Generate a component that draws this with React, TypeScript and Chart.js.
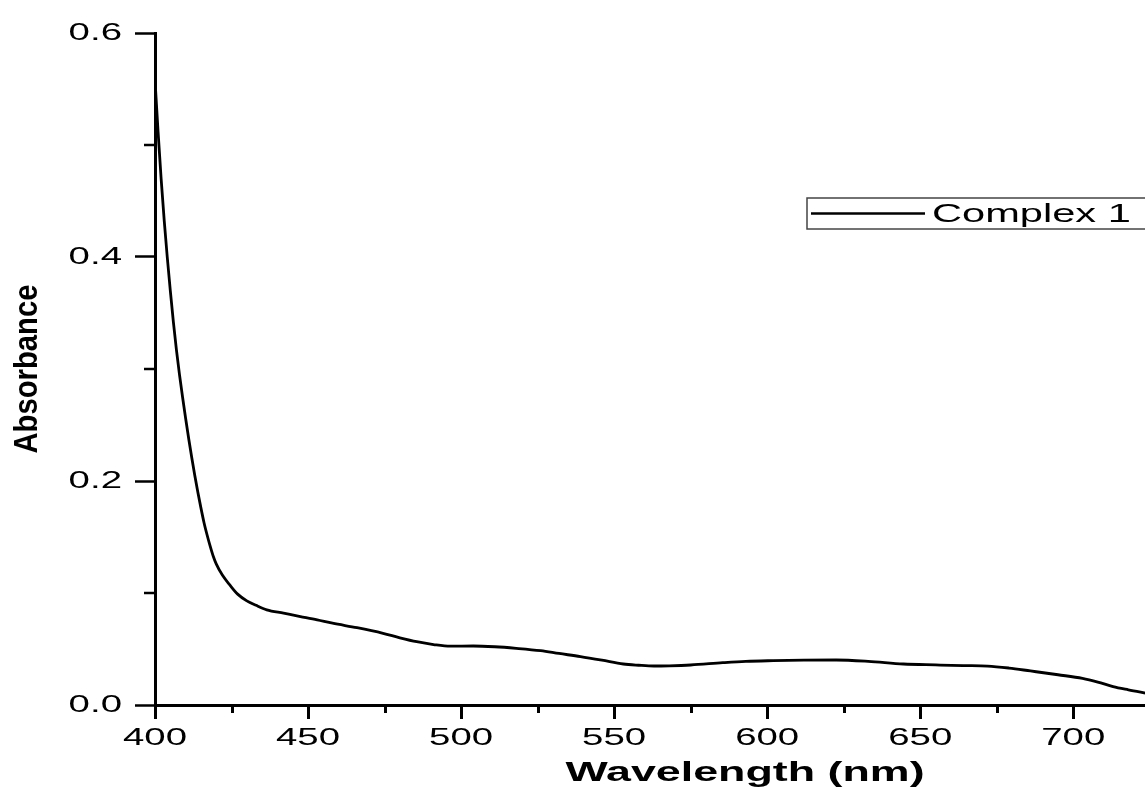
import React, { useEffect, useRef } from "react";
import { Chart, registerables } from "chart.js";

Chart.register(...registerables);

// ---- data ----
const WAVELENGTH = [
  400, 401, 402, 403, 404, 405, 406, 407, 408, 409, 410, 411, 412, 413, 414, 415, 416, 417,
  418, 419, 420, 422, 424.5, 427, 430, 433, 436.5, 442, 447.5, 453, 458, 466, 474.5, 480,
  485.5, 491, 496.5, 504, 511, 518, 526, 532, 539, 546, 553, 558, 563, 568, 575, 585.5, 593,
  602, 612, 622.5, 633, 644.5, 655, 664, 672, 679, 686, 695, 703, 708, 713, 718, 724,
];
const ABSORBANCE = [
  0.558, 0.512, 0.47, 0.433, 0.4, 0.37, 0.342, 0.317, 0.295, 0.275, 0.256, 0.238, 0.221,
  0.205, 0.19, 0.176, 0.163, 0.152, 0.142, 0.133, 0.126, 0.116, 0.107, 0.099, 0.093, 0.089,
  0.085, 0.082, 0.079, 0.076, 0.073, 0.069, 0.064, 0.06, 0.0565, 0.054, 0.0525, 0.0527,
  0.052, 0.0506, 0.0485, 0.046, 0.0432, 0.04, 0.0366, 0.0355, 0.0348, 0.035, 0.0357, 0.0378,
  0.039, 0.0396, 0.04, 0.0402, 0.039, 0.0366, 0.0358, 0.0352, 0.0348, 0.033, 0.0304, 0.027,
  0.0238, 0.0205, 0.0164, 0.0135, 0.0104,
];
const SERIES_LABEL = "Complex 1";
const X_TITLE = "Wavelength (nm)";
const Y_TITLE = "Absorbance";
const X_MAJOR_TICKS = [400, 450, 500, 550, 600, 650, 700];
const X_MINOR_TICKS = [425, 475, 525, 575, 625, 675, 725];
const Y_MAJOR_TICKS = [0, 0.2, 0.4, 0.6];
const Y_MINOR_TICKS = [0.1, 0.3, 0.5];
const X_MIN = 400;
const X_MAX = 785.5;
const Y_MIN = 0;
const Y_MAX = 0.6;

const FONT = "'Liberation Sans', Arial, Helvetica, sans-serif";
const H_STRETCH = 1.6; // horizontal text looks stretched in the reference
const ROT_SQUEEZE = 0.86; // rotated title looks condensed

function patchContext(ctx: any) {
  const orig = ctx.fillText.bind(ctx);
  ctx.fillText = (text: string, x: number, y: number, maxWidth?: number) => {
    const m = ctx.getTransform();
    const rotated = Math.abs(m.b) > 1e-6;
    const sx = rotated ? ROT_SQUEEZE : H_STRETCH;
    ctx.save();
    ctx.translate(x, y);
    ctx.scale(sx, 1);
    if (maxWidth !== undefined && maxWidth !== null && isFinite(maxWidth)) {
      orig(text, 0, 0, maxWidth / sx);
    } else {
      orig(text, 0, 0);
    }
    ctx.restore();
  };
}

const extrasPlugin = {
  id: "extras",
  afterDraw(chart: any) {
    const { ctx, chartArea, scales } = chart;
    const xs = scales.x;
    const ys = scales.y;
    ctx.save();
    ctx.strokeStyle = "#000";
    // minor ticks x
    ctx.lineWidth = 3;
    X_MINOR_TICKS.forEach((v) => {
      const px = Math.round(xs.getPixelForValue(v)) + 0.5;
      ctx.beginPath();
      ctx.moveTo(px, chartArea.bottom);
      ctx.lineTo(px, chartArea.bottom + 8);
      ctx.stroke();
    });
    // minor ticks y
    ctx.lineWidth = 2.5;
    Y_MINOR_TICKS.forEach((v) => {
      const py = ys.getPixelForValue(v);
      ctx.beginPath();
      ctx.moveTo(chartArea.left - 11, py);
      ctx.lineTo(chartArea.left, py);
      ctx.stroke();
    });
    // legend
    const ds = chart.data.datasets[0];
    const bx = 807, by = 198, bw = 360, bh = 31;
    ctx.lineWidth = 1.5;
    ctx.strokeStyle = "#444";
    ctx.strokeRect(bx, by, bw, bh);
    ctx.strokeStyle = ds.borderColor;
    ctx.lineWidth = 2.5;
    ctx.beginPath();
    ctx.moveTo(bx + 4, by + bh / 2);
    ctx.lineTo(bx + 118, by + bh / 2);
    ctx.stroke();
    ctx.fillStyle = "#000";
    ctx.font = `26px ${FONT}`;
    ctx.textAlign = "left";
    ctx.textBaseline = "middle";
    ctx.fillText(ds.label, bx + 125, by + bh / 2 + 1);
    ctx.restore();
  },
};

export default function App() {
  const canvasRef = useRef<HTMLCanvasElement | null>(null);

  useEffect(() => {
    const canvas = canvasRef.current;
    if (!canvas) return;
    const ctx = canvas.getContext("2d");
    patchContext(ctx);
    const chart = new Chart(canvas, {
      type: "line",
      data: {
        datasets: [
          {
            label: SERIES_LABEL,
            data: WAVELENGTH.map((x, i) => ({ x, y: ABSORBANCE[i] })),
            borderColor: "#000",
            borderWidth: 2.8,
            pointRadius: 0,
            fill: false,
            cubicInterpolationMode: "monotone",
          },
        ],
      },
      options: {
        animation: false,
        responsive: false,
        devicePixelRatio: 1,
        layout: { padding: { top: 33, right: 0, left: 0, bottom: 0 } },
        plugins: { legend: { display: false }, tooltip: { enabled: false } },
        scales: {
          x: {
            type: "linear",
            min: X_MIN,
            max: X_MAX,
            afterBuildTicks: (s: any) => {
              s.ticks = X_MAJOR_TICKS.map((v) => ({ value: v }));
            },
            afterFit: (s: any) => {
              s.height = 85;
            },
            grid: { drawOnChartArea: false, tickLength: 14, tickWidth: 3, tickColor: "#000" },
            border: { color: "#000", width: 3 },
            ticks: {
              color: "#000",
              font: { family: FONT, size: 24 },
              padding: 5,
              maxRotation: 0,
              autoSkip: false,
              callback: (v: any) => String(v),
            },
            title: {
              display: true,
              text: X_TITLE,
              color: "#000",
              font: { family: FONT, size: 28, weight: "bold" },
              padding: { top: 0, bottom: 0 },
            },
          },
          y: {
            type: "linear",
            min: Y_MIN,
            max: Y_MAX,
            afterBuildTicks: (s: any) => {
              s.ticks = Y_MAJOR_TICKS.map((v) => ({ value: v }));
            },
            afterFit: (s: any) => {
              s.width = 155;
            },
            grid: { drawOnChartArea: false, tickLength: 20, tickWidth: 2.5, tickColor: "#000" },
            border: { color: "#000", width: 3 },
            ticks: {
              color: "#000",
              font: { family: FONT, size: 24 },
              padding: 13,
              callback: (v: any) => Number(v).toFixed(1),
            },
            title: {
              display: true,
              text: Y_TITLE,
              color: "#000",
              font: { family: FONT, size: 34, weight: "bold" },
              padding: { top: 7, bottom: 0 },
            },
          },
        },
      },
      plugins: [extrasPlugin],
    } as any);
    return () => chart.destroy();
  }, []);

  return (
    <div style={{ position: "absolute", left: 0, top: 0, width: 1145, height: 790, overflow: "hidden", background: "#fff" }}>
      <canvas ref={canvasRef} width={1335} height={790} />
    </div>
  );
}
